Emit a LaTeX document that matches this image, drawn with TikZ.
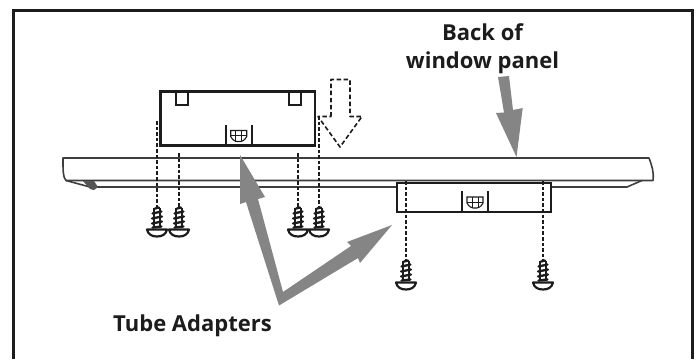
\documentclass[tikz,border=0pt]{standalone}
\usepackage{fontspec}
\setmainfont{Open Sans}
\definecolor{ink}{HTML}{1c1c1c}
\definecolor{arrowgray}{HTML}{858585}
\tikzset{
  x=1pt,y=-1pt,
  frameline/.style={draw=ink,line width=3pt},
  panelline/.style={draw=ink!85,line width=1.6pt},
  adapterbox/.style={draw=ink,line width=2.4pt,fill=white},
  guideline/.style={draw=ink,line width=2pt,dash pattern=on 3.6pt off 2pt},
  movearrow/.style={draw=ink,line width=1.6pt,dash pattern=on 4.5pt off 2.6pt},
  callout/.style={fill=arrowgray,draw=none},
  labeltext/.style={text=ink,font=\fontsize{22}{28}\selectfont\bfseries,align=center,inner sep=0pt},
  pics/screw/.style={code={
    \draw[ink,line width=1.4pt] (-3,1)--(-3,21) (3,1)--(3,21);
    \draw[ink,line width=2.3pt,line cap=round]
      (-2,1.5)--(2,0.5) (-4.5,6.5)--(4.5,4.5) (-5,11.5)--(5,9.5) (-5,16.5)--(5,14.5) (-4.5,20.5)--(4.5,19.5);
    \draw[ink,line width=2.2pt,fill=white,line join=round]
      (-10,22.5)--(10,22.5) .. controls (9,27.5) and (5,29.5) .. (0,29.5) .. controls (-5,29.5) and (-9,27.5) .. (-10,22.5) -- cycle;
  }},
  pics/latch/.style={code={
    \draw[ink,line width=2.2pt] (-13,0)--(-13,-21) (13,0)--(13,-21);
    \draw[ink,line width=1.1pt] (-8,-15)--(8,-15)--(8,-9) .. controls (6,-5) and (3,-4) .. (2,-4)
       --(-2,-4) .. controls (-3,-4) and (-6,-5) .. (-8,-9)--cycle;
    \draw[ink,line width=.9pt] (-8,-10)--(8,-10) (-3,-15)--(-3,-4) (3,-15)--(3,-4);
  }}
}
\begin{document}
\begin{tikzpicture}
\useasboundingbox (0,0) rectangle (699,359);
\fill[white] (0,0) rectangle (699,359);
% frame: open at the bottom
\draw[frameline] (13.5,359)--(13.5,10.5)--(692.5,10.5)--(692.5,359);

% panel
\draw[panelline,fill=white,line join=round]
  (63,158)--(649,158) .. controls (652,166) and (654,172) .. (653,180.5)--(642,180.5)--(66,180.5)
  .. controls (63,177) and (63,172) .. (63,158)--cycle;
\draw[panelline] (66,180.5)--(90,187)--(397,187);
\draw[panelline] (551,187)--(627,187)--(642,180.5);
\fill[ink!75] (83,181)--(94,181)--(98,187)--(94,190)--(90,189)--cycle;

% adapters
\draw[adapterbox] (160.5,91.5) rectangle (315,145.5);
\draw[ink,line width=2pt] (176,92)--(176,105)--(188,105)--(188,92);
\draw[ink,line width=2pt] (289,92)--(289,105)--(301,105)--(301,92);
\pic at (238.7,145.5) {latch};
\draw[adapterbox] (397,183) rectangle (551,212);
\pic at (475,212) {latch};

% dashed guides and screws
\coordinate (g1t) at (157,121); \coordinate (g1b) at (157,207);
\coordinate (g2t) at (179,153); \coordinate (g2b) at (179,207);
\coordinate (g3t) at (298,153); \coordinate (g3b) at (298,207);
\coordinate (g4t) at (319,116); \coordinate (g4b) at (319,207);
\coordinate (g5t) at (406,181); \coordinate (g5b) at (406,260);
\coordinate (g6t) at (543,181); \coordinate (g6b) at (543,260);
\foreach \g in {1,...,6}{\draw[guideline] (g\g t)--(g\g b);}
\pic at (g1b) {screw};
\pic at (g2b) {screw};
\pic at (g3b) {screw};
\pic at (g4b) {screw};
\pic at (g5b) {screw};
\pic at (g6b) {screw};

% dashed outline arrow
\draw[movearrow,line join=round]
  (331,116.5)--(331,79.5)--(350,79.5)--(350,116.5)--(362,116.5)--(340,147)--(318,116.5)--cycle;

% gray callouts
\fill[callout] (498,77)--(509,76)--(513,110)--(522.7,108)--(516.5,157)--(496,113)--(504,112.5)--cycle;
\fill[callout] (240,155)--(265,197)--(258,199)--(283,292)--(351,246)--(347,242)--(392,225)
  --(360,263)--(358,258)--(279,305.5)--(246,202)--(240,204)--cycle;

% labels
\node[labeltext,anchor=base] (back) at (482.5,68) {Back of\\window panel};
\node[labeltext,anchor=base] (tube) at (192.5,331) {Tube Adapters};
\end{tikzpicture}
\end{document}
